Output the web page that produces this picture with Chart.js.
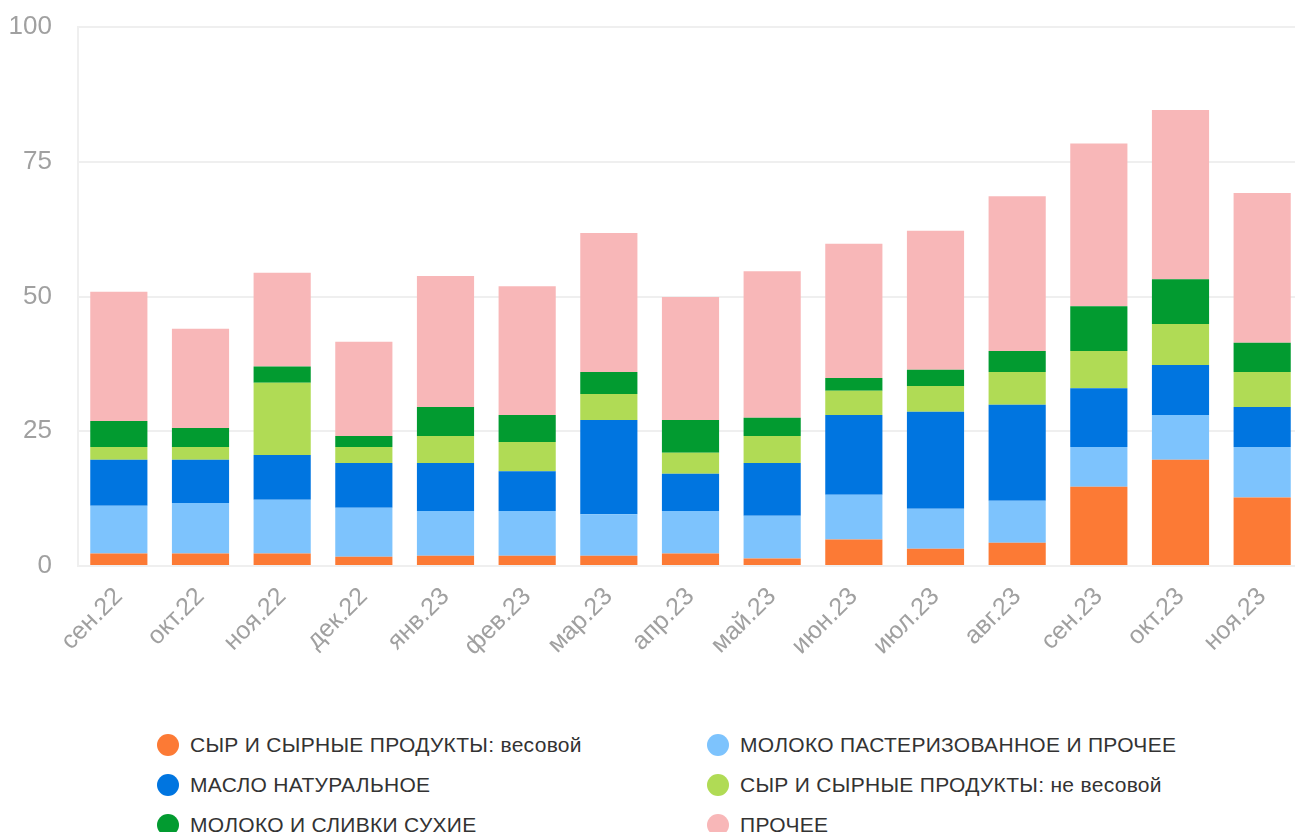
<!DOCTYPE html>
<html lang="ru">
<head>
<meta charset="utf-8" />
<script src="https://cdn.jsdelivr.net/npm/chart.js@4.4.0/dist/chart.umd.min.js"></script>
<title>Молочная продукция</title>
<style>
  html, body { margin: 0; padding: 0; background: #fff; overflow: hidden; }
  #wrap { position: absolute; left: 0; top: 0; width: 1303px; height: 676px; }
  #legend { position: absolute; left: 157px; top: 734px; width: 1100px;
            font-family: "Liberation Sans", Arial, sans-serif; font-size: 21px;
            letter-spacing: 0.3px; color: #333; }
  .item { position: absolute; height: 40px; line-height: 22px; white-space: nowrap; }
  .dot { display: inline-block; width: 22px; height: 22px; border-radius: 50%;
         vertical-align: middle; margin-right: 11px; position: relative; top: -1px; }
</style>
</head>
<body>
<div id="wrap"><canvas id="chart"></canvas></div>
<div id="legend"></div>
<script>
// месяцы
const months = ["сен.22", "окт.22", "ноя.22", "дек.22", "янв.23", "фев.23", "мар.23", "апр.23",
                "май.23", "июн.23", "июл.23", "авг.23", "сен.23", "окт.23", "ноя.23"];

// значения по группам (снизу вверх)
const syrVesovoy   = [2.3, 2.3, 2.3, 1.7, 1.9, 1.9, 1.9, 2.3, 1.4, 4.9, 3.2, 4.3, 14.7, 19.7, 12.7];
const molokoPast   = [8.9, 9.4, 10.0, 9.1, 8.3, 8.3, 7.7, 7.9, 7.9, 8.3, 7.4, 7.8, 7.4, 8.3, 9.4];
const maslo        = [8.5, 8.0, 8.3, 8.3, 8.9, 7.4, 17.5, 6.9, 9.8, 14.8, 18.0, 17.8, 10.9, 9.3, 7.4];
const syrNeVesovoy = [2.4, 2.4, 13.4, 3.0, 5.0, 5.4, 4.8, 3.9, 5.0, 4.5, 4.8, 6.1, 6.9, 7.6, 6.5];
const molokoSuhoe  = [4.8, 3.5, 3.0, 2.0, 5.4, 5.0, 4.1, 6.1, 3.4, 2.4, 3.0, 3.9, 8.3, 8.3, 5.4];
const prochee      = [24.0, 18.4, 17.4, 17.5, 24.3, 23.9, 25.8, 22.8, 27.2, 24.9, 25.8, 28.7, 30.2, 31.4, 27.8];

const yTicks = [0, 25, 50, 75, 100];

const series = [
  { name: "СЫР И СЫРНЫЕ ПРОДУКТЫ: весовой", data: syrVesovoy, color: "#fc7a35" },
  { name: "МОЛОКО ПАСТЕРИЗОВАННОЕ И ПРОЧЕЕ", data: molokoPast, color: "#7dc3fd" },
  { name: "МАСЛО НАТУРАЛЬНОЕ", data: maslo, color: "#0075e0" },
  { name: "СЫР И СЫРНЫЕ ПРОДУКТЫ: не весовой", data: syrNeVesovoy, color: "#b0db55" },
  { name: "МОЛОКО И СЛИВКИ СУХИЕ", data: molokoSuhoe, color: "#029b30" },
  { name: "ПРОЧЕЕ", data: prochee, color: "#f8b7b8" }
];

new Chart(document.getElementById("chart"), {
  type: "bar",
  data: {
    labels: months,
    datasets: series.map(s => ({
      label: s.name, data: s.data, backgroundColor: s.color,
      borderWidth: 0, categoryPercentage: 0.7, barPercentage: 1
    }))
  },
  options: {
    responsive: true,
    maintainAspectRatio: false,
    animation: false,
    layout: { padding: { top: 27, left: 0, right: 0, bottom: 0 } },
    plugins: { legend: { display: false }, tooltip: { enabled: false } },
    scales: {
      x: {
        stacked: true,
        grid: { display: false },
        border: { display: false },
        ticks: {
          minRotation: 45, maxRotation: 45, padding: 8,
          color: "#a0a0a0",
          font: { family: "Liberation Sans", size: 25 }
        },
        afterFit: axis => { axis.height = 110; }
      },
      y: {
        stacked: true,
        min: 0, max: 100,
        afterBuildTicks: axis => { axis.ticks = yTicks.map(v => ({ value: v })); },
        // невидимые засечки вместо отступа подписей
        grid: { color: "#efefef", lineWidth: 2, drawTicks: true, tickLength: 26, tickColor: "rgba(0,0,0,0)" },
        border: { display: true, color: "#efefef", width: 2 },
        ticks: {
          padding: 0,
          color: "#a0a0a0",
          font: { family: "Liberation Sans", size: 26 }
        },
        afterFit: axis => { axis.width = 78; }
      }
    }
  }
});

// легенда в две колонки
const legend = document.getElementById("legend");
series.forEach((s, i) => {
  const el = document.createElement("div");
  el.className = "item";
  el.style.left = (i % 2 === 0 ? 0 : 550) + "px";
  el.style.top = (Math.floor(i / 2) * 40) + "px";
  el.innerHTML = '<span class="dot" style="background:' + s.color + '"></span>' + s.name;
  legend.appendChild(el);
});
</script>
</body>
</html>
